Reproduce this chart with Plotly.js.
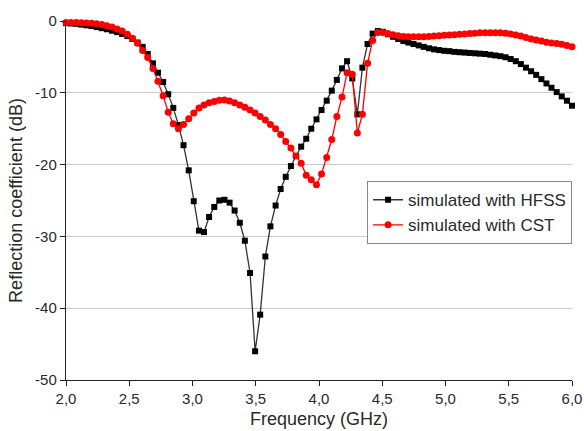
<!DOCTYPE html>
<html>
<head>
<meta charset="utf-8">
<script src="https://cdn.plot.ly/plotly-3.0.1.min.js"></script>
<style>
html,body{margin:0;padding:0;background:#fff;}
#chart{width:584px;height:431px;}
</style>
</head>
<body>
<div id="chart"></div>
<script>
// Frequency sweep (GHz), 100 points from 2.0 to 6.0
const freq = [
2.000,2.040,2.081,2.121,2.162,2.202,2.242,2.283,2.323,2.364,
2.404,2.444,2.485,2.525,2.566,2.606,2.646,2.687,2.727,2.768,
2.808,2.848,2.889,2.929,2.970,3.010,3.051,3.091,3.131,3.172,
3.212,3.253,3.293,3.333,3.374,3.414,3.455,3.495,3.535,3.576,
3.616,3.657,3.697,3.737,3.778,3.818,3.859,3.899,3.939,3.980,
4.020,4.061,4.101,4.141,4.182,4.222,4.263,4.303,4.343,4.384,
4.424,4.465,4.505,4.545,4.586,4.626,4.667,4.707,4.747,4.788,
4.828,4.869,4.909,4.949,4.990,5.030,5.071,5.111,5.152,5.192,
5.232,5.273,5.313,5.354,5.394,5.434,5.475,5.515,5.556,5.596,
5.636,5.677,5.717,5.758,5.798,5.838,5.879,5.919,5.960,6.000];

// Reflection coefficient (dB), simulated with HFSS
const hfss = [
-0.3,-0.35,-0.4,-0.5,-0.6,-0.7,-0.85,-1.0,-1.15,-1.35,
-1.55,-1.8,-2.1,-2.5,-3.0,-3.6,-4.6,-5.9,-7.2,-8.5,
-10.2,-12.1,-14.5,-17.3,-20.8,-25.1,-29.2,-29.4,-27.3,-25.9,
-25.0,-24.9,-25.3,-26.4,-28.1,-30.6,-35.1,-46.0,-40.9,-32.8,
-28.6,-25.7,-23.4,-21.7,-20.2,-18.8,-17.5,-16.4,-15.0,-13.7,
-12.4,-11.1,-9.7,-8.2,-6.6,-5.6,-8.0,-13.0,-6.5,-3.2,
-1.75,-1.4,-1.5,-1.85,-2.2,-2.5,-2.8,-3.0,-3.2,-3.4,
-3.6,-3.8,-3.95,-4.05,-4.15,-4.2,-4.3,-4.35,-4.4,-4.45,
-4.5,-4.55,-4.6,-4.7,-4.8,-4.9,-5.05,-5.3,-5.6,-6.0,
-6.5,-7.0,-7.5,-8.1,-8.7,-9.3,-9.9,-10.5,-11.1,-11.8];

// Reflection coefficient (dB), simulated with CST
const cst = [
-0.2,-0.2,-0.22,-0.25,-0.28,-0.33,-0.4,-0.5,-0.65,-0.85,
-1.1,-1.4,-1.85,-2.4,-3.1,-4.1,-5.1,-6.6,-8.4,-10.4,
-12.7,-14.3,-15.0,-14.4,-13.6,-12.8,-12.1,-11.7,-11.4,-11.2,
-11.05,-11.0,-11.15,-11.4,-11.7,-12.0,-12.4,-12.8,-13.3,-13.8,
-14.4,-15.0,-15.8,-16.8,-17.7,-18.8,-19.8,-21.5,-22.1,-22.8,
-21.3,-19.0,-16.5,-13.3,-10.6,-7.2,-7.4,-15.6,-13.0,-5.9,
-2.7,-1.6,-1.6,-1.75,-1.9,-2.05,-2.15,-2.2,-2.2,-2.2,
-2.2,-2.15,-2.1,-2.05,-2.0,-1.95,-1.9,-1.85,-1.8,-1.75,
-1.7,-1.65,-1.65,-1.62,-1.62,-1.65,-1.7,-1.8,-1.95,-2.1,
-2.3,-2.5,-2.65,-2.8,-2.95,-3.05,-3.15,-3.25,-3.4,-3.6];

const seriesNames = ['simulated with HFSS', 'simulated with CST'];
const xTicks = [2.0,2.5,3.0,3.5,4.0,4.5,5.0,5.5,6.0];
const xTickText = ['2,0','2,5','3,0','3,5','4,0','4,5','5,0','5,5','6,0'];
const yTicks = [-50,-40,-30,-20,-10,0];
const yTickText = ['-50','-40','-30','-20','-10','0'];

const traces = [
  {
    x: freq, y: hfss, name: seriesNames[0], type: 'scatter', mode: 'lines+markers',
    line: {color: '#333333', width: 1.3},
    marker: {symbol: 'square', size: 6, color: '#000000'},
    cliponaxis: false
  },
  {
    x: freq, y: cst, name: seriesNames[1], type: 'scatter', mode: 'lines+markers',
    line: {color: '#ff0000', width: 1.3},
    marker: {symbol: 'circle', size: 7, color: '#ff0000'},
    cliponaxis: false
  }
];

const layout = {
  width: 584, height: 431,
  margin: {l: 66, r: 12, t: 21, b: 51},
  paper_bgcolor: '#ffffff', plot_bgcolor: '#ffffff',
  font: {family: 'Liberation Sans, Arial, sans-serif', size: 15, color: '#2a2a2a'},
  showlegend: true,
  legend: {
    x: 0.595, y: 0.466, xanchor: 'left', yanchor: 'middle',
    bgcolor: '#ffffff', bordercolor: '#888888', borderwidth: 1,
    font: {size: 17, color: '#2a2a2a'},
    tracegroupgap: 0
  },
  xaxis: {
    range: [2, 6], tickvals: xTicks, ticktext: xTickText,
    showgrid: false, zeroline: false,
    showline: true, linecolor: '#222', linewidth: 1.2,
    ticks: 'outside', ticklen: 5, tickcolor: '#222',
    tickfont: {size: 15},
    title: {text: 'Frequency (GHz)', font: {size: 18}, standoff: 6}
  },
  yaxis: {
    range: [-50, 0], tickvals: yTicks, ticktext: yTickText,
    showgrid: true, gridcolor: '#c8c8c8', gridwidth: 1,
    zeroline: false,
    showline: true, linecolor: '#222', linewidth: 1.2,
    ticks: 'outside', ticklen: 5, tickcolor: '#222',
    tickfont: {size: 15},
    title: {text: 'Reflection coefficient (dB)', font: {size: 18}, standoff: 7}
  }
};

Plotly.newPlot('chart', traces, layout, {displayModeBar: false, staticPlot: true});
</script>
</body>
</html>
